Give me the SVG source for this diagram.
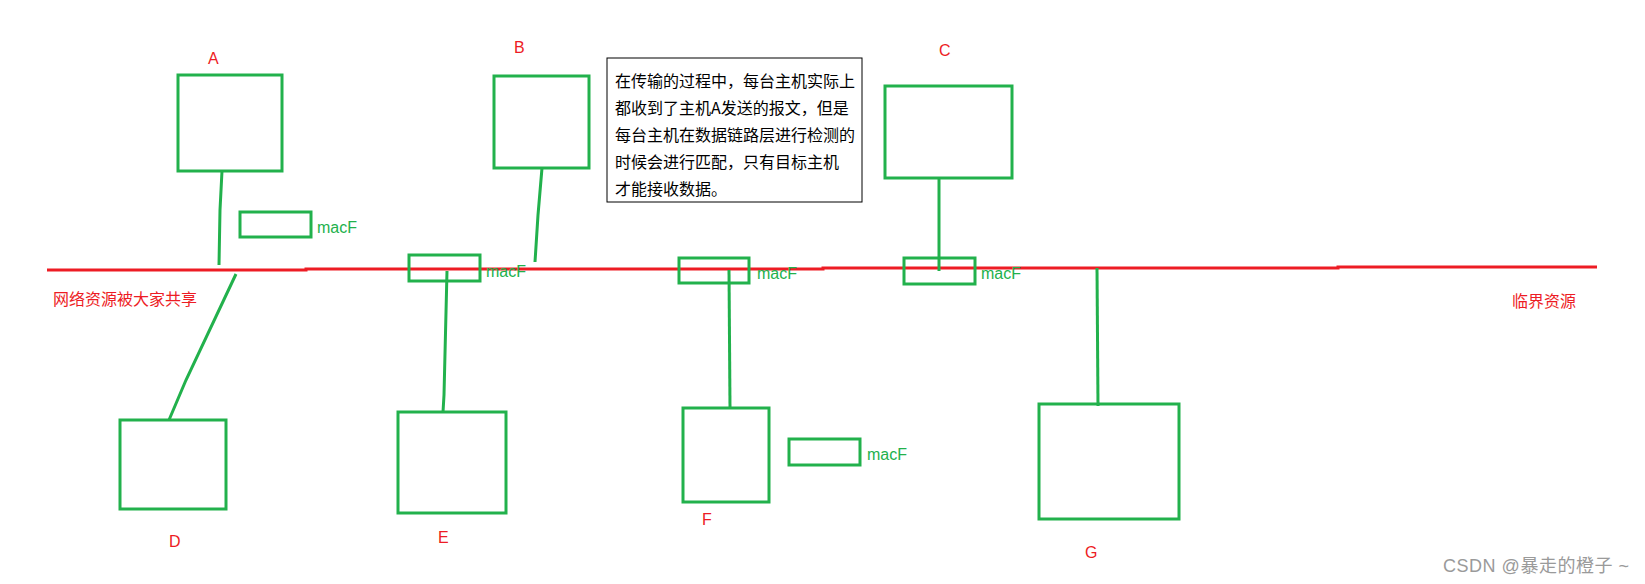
<svg xmlns="http://www.w3.org/2000/svg" width="1645" height="584" viewBox="0 0 1645 584">
<style>
.box{fill:none;stroke:#22b14c;stroke-width:3}
.wire{fill:none;stroke:#22b14c;stroke-width:3}
.bus{fill:none;stroke:#ed1c24;stroke-width:3}
.lbl{font-family:"Liberation Sans","Noto Sans CJK SC",sans-serif;font-size:16px;fill:#ed1c24}
.cjk{font-family:"Noto Sans CJK SC",sans-serif;font-size:16px;fill:#ed1c24}
.mac{font-family:"Liberation Sans",sans-serif;font-size:16px;fill:#22b14c}
.note{font-family:"Noto Sans CJK SC",sans-serif;font-size:16px;fill:#000}
</style>
<rect width="1645" height="584" fill="#fff"/>
<g id="connectors">
<polyline class="bus" points="47,270 306,270 306,269 823,269 823,268 1338,268 1338,267 1597,267"/>
<polyline class="wire" points="222,171 220,210 219,265"/>
<polyline class="wire" points="236,274 186,380 169,420"/>
<polyline class="wire" points="542,168 538,215 535,262"/>
<polyline class="wire" points="447,271 444,395 443,412"/>
<line class="wire" x1="729" y1="270" x2="730" y2="408"/>
<line class="wire" x1="939" y1="178" x2="939" y2="271"/>
<line class="wire" x1="1097" y1="268" x2="1098" y2="406"/>
</g>
<g id="A"><rect class="box" x="178" y="75" width="104" height="96"/><text class="lbl" x="208" y="64">A</text></g>
<g id="B"><rect class="box" x="494" y="76" width="95" height="92"/><text class="lbl" x="514" y="53">B</text></g>
<g id="C"><rect class="box" x="885" y="86" width="127" height="92"/><text class="lbl" x="939" y="56">C</text></g>
<g id="D"><rect class="box" x="120" y="420" width="106" height="89"/><text class="lbl" x="169" y="547">D</text></g>
<g id="E"><rect class="box" x="398" y="412" width="108" height="101"/><text class="lbl" x="438" y="543">E</text></g>
<g id="F"><rect class="box" x="683" y="408" width="86" height="94"/><text class="lbl" x="702" y="525">F</text></g>
<g id="G"><rect class="box" x="1039" y="404" width="140" height="115"/><text class="lbl" x="1085" y="558">G</text></g>
<g id="macF-A"><rect class="box" x="240" y="212" width="71" height="25"/><text class="mac" x="317" y="233">macF</text></g>
<g id="macF-E"><rect class="box" x="409" y="255" width="71" height="26"/><text class="mac" x="486" y="277">macF</text></g>
<g id="macF-F1"><rect class="box" x="679" y="258" width="70" height="25"/><text class="mac" x="757" y="279">macF</text></g>
<g id="macF-C"><rect class="box" x="904" y="258" width="71" height="26"/><text class="mac" x="981" y="279">macF</text></g>
<g id="macF-F2"><rect class="box" x="789" y="439" width="71" height="26"/><text class="mac" x="867" y="460">macF</text></g>
<g id="note">
<rect x="607" y="58" width="255" height="144" fill="#fff" stroke="#000" stroke-width="1"/>
<text class="note" x="615" y="87">在传输的过程中，每台主机实际上</text>
<text class="note" x="615" y="114">都收到了主机A发送的报文，但是</text>
<text class="note" x="615" y="141">每台主机在数据链路层进行检测的</text>
<text class="note" x="615" y="168">时候会进行匹配，只有目标主机</text>
<text class="note" x="615" y="195">才能接收数据。</text>
</g>
<text class="cjk" x="53" y="305">网络资源被大家共享</text>
<text class="cjk" x="1512" y="307">临界资源</text>
<text x="1443" y="572" font-family="Liberation Sans,'Noto Sans CJK SC',sans-serif" font-size="18" fill="#9a9a9a" textLength="186">CSDN @暴走的橙子 ~</text>
</svg>
